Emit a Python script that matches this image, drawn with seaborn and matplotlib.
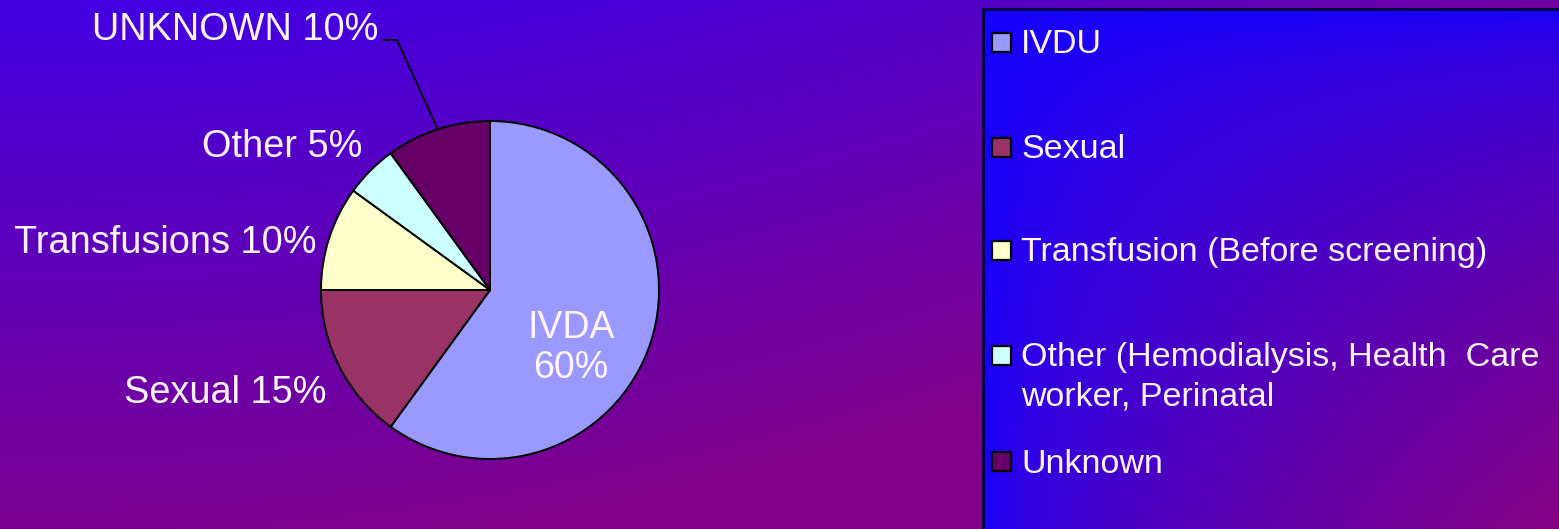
import numpy as np
import matplotlib
matplotlib.use("Agg")
import matplotlib.pyplot as plt
from matplotlib.patches import Rectangle
import seaborn as sns

# Routes of transmission
slice_names = ["IVDA", "Sexual", "Transfusions", "Other", "UNKNOWN"]
slice_shares = [60, 15, 10, 5, 10]
legend_labels = [
    "IVDU",
    "Sexual",
    "Transfusion (Before screening)",
    "Other (Hemodialysis, Health  Care\nworker, Perinatal",
    "Unknown",
]
slice_colors = ["#9999FF", "#993366", "#FFFFCC", "#CCFFFF", "#660066"]

sns.set_style("white")
plt.rcParams["font.family"] = ["Liberation Sans", "DejaVu Sans"]

W, H = 1559, 529
fig = plt.figure(figsize=(W / 100, H / 100), dpi=100)

# Full-figure canvas in pixel units (y pointing down) for the backdrop and legend
bg = fig.add_axes([0, 0, 1, 1])
bg.set_xlim(0, W)
bg.set_ylim(H, 0)
bg.set_axis_off()

yy, xx = np.mgrid[0:H, 0:W]
t = np.clip(yy / 560 + 0.75 * (xx / W) ** 2, 0, 1)[..., None]
c0 = np.array([0x42, 0x00, 0xE2]) / 255
c1 = np.array([0x80, 0x00, 0x8C]) / 255
bg.imshow(c0 * (1 - t) + c1 * t, extent=[0, W, H, 0], aspect="auto", zorder=0)

# Legend panel with its own corner gradient
lx0, ly0 = 983, 9
lh, lw = H - ly0, W - lx0
v, u = np.mgrid[0:lh, 0:lw]
tl = ((u / lw) * (v / lh)) ** 0.55
tl = tl[..., None]
l0 = np.array([0x14, 0x00, 0xFF]) / 255
l1 = np.array([0x86, 0x00, 0x84]) / 255
bg.imshow(l0 * (1 - tl) + l1 * tl, extent=[lx0, W, H, ly0], aspect="auto", zorder=1)
bg.plot([lx0, lx0, W], [H, ly0, ly0], color="#000033", lw=2, zorder=2,
        solid_joinstyle="miter")

marker_y = [42, 147, 250, 355, 461]
text_base = [53, 158, 261, 366, 473]
line_gap = 40
text_color = "#FFF4FF"
for lab, col, my, tb in zip(legend_labels, slice_colors, marker_y, text_base):
    bg.add_patch(Rectangle((992, my - 9.5), 19, 19, facecolor=col,
                           edgecolor="black", lw=1.6, zorder=3))
    for k, line in enumerate(lab.split("\n")):
        bg.text(1021, tb + k * line_gap, line, color=text_color, fontsize=24.5,
                va="baseline", ha="left", zorder=3)

# Pie
cx, cy, r = 490, 290, 169
ax = fig.add_axes([(cx - r) / W, (H - cy - r) / H, 2 * r / W, 2 * r / H])
wedges, _ = ax.pie(slice_shares, colors=slice_colors, startangle=90,
                   counterclock=False, radius=1,
                   wedgeprops=dict(edgecolor="black", linewidth=1.4))
ax.set_xlim(-1, 1)
ax.set_ylim(-1, 1)
ax.set_axis_off()


def px(x, y):
    return (x - cx) / r, (cy - y) / r


label_style = dict(color=text_color, fontsize=27.3, va="baseline")
name_map = dict(zip(slice_names, slice_shares))

ax.text(*px(571, 348), f"IVDA\n{name_map['IVDA']}%", ha="center", va="center",
        color=text_color, fontsize=27, linespacing=1.15)
ax.text(*px(326, 403), f"Sexual {name_map['Sexual']}%", ha="right", **label_style)
ax.text(*px(316, 253), f"Transfusions {name_map['Transfusions']}%", ha="right", **label_style)
ax.text(*px(362, 157), f"Other {name_map['Other']}%", ha="right", **label_style)
ax.text(*px(378, 40), f"UNKNOWN {name_map['UNKNOWN']}%", ha="right", **label_style)

# Leader line from the UNKNOWN label to the middle of its wedge
w = wedges[-1]
mid = np.deg2rad((w.theta1 + w.theta2) / 2)
ex, ey = np.cos(mid), np.sin(mid)
sx, sy = px(383, 40)
kx, _ = px(397, 40)
ax.plot([sx, kx, ex], [sy, sy, ey], color="black", lw=1.3, clip_on=False)

fig.savefig("out.png", dpi=100)
